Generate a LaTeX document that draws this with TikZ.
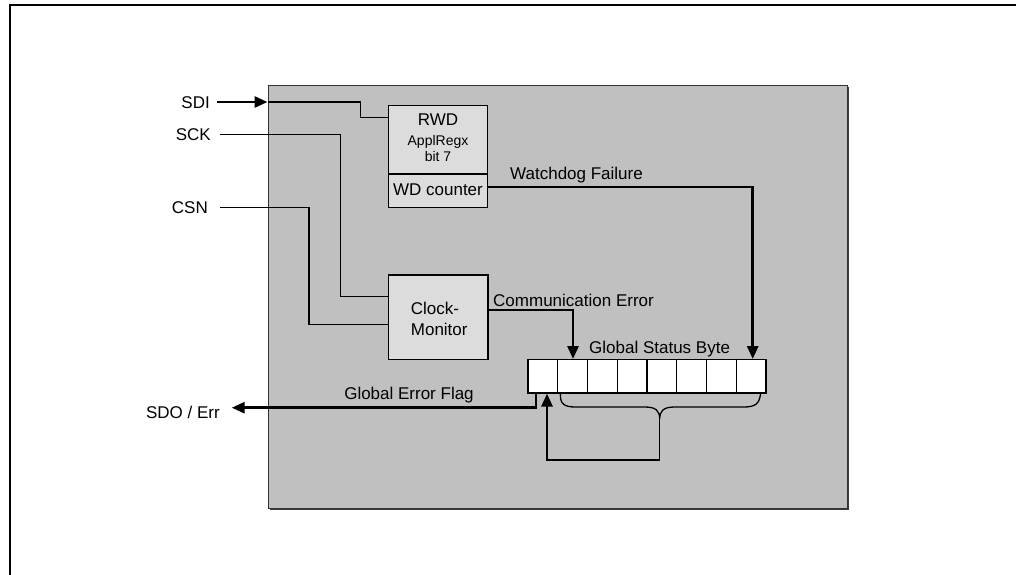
\documentclass[tikz,border=0pt]{standalone}
\usepackage{fontspec}
\setmainfont{Liberation Sans}
\usetikzlibrary{arrows.meta}
\definecolor{chipgray}{RGB}{192,192,192}
\definecolor{boxgray}{RGB}{220,220,220}
\definecolor{shadowgray}{RGB}{60,60,60}
\begin{document}
\begin{tikzpicture}[x=1pt,y=-1pt,
  lbl/.style={inner sep=0pt, font=\fontsize{17}{20}\selectfont, text height=12.2pt, text depth=0pt},
  sml/.style={inner sep=0pt, font=\fontsize{14}{17}\selectfont, text height=10pt, text depth=0pt},
  thinline/.style={line width=1.3pt, draw=black},
  thickline/.style={line width=2.8pt, draw=black},
  arr/.style={-{Triangle[length=13pt,width=11pt]}},
  blk/.style={draw=black, line width=1.3pt, fill=boxgray, inner sep=0pt, anchor=north west},
  cell/.style={draw=black, line width=1.3pt, fill=white, minimum width=29.75pt, minimum height=33.3pt, inner sep=0pt, anchor=north west}]
\useasboundingbox (0,0) rectangle (1016,574);
% outer frame
\draw[line width=2pt] (10,590) -- (10,5.2) -- (1030,5.2);
% chip body with shadow
\fill[shadowgray] (269.5,86.5) rectangle (848.5,509.5);
\node[draw=black!80, line width=1pt, fill=chipgray, anchor=north west, minimum width=579pt, minimum height=423pt, inner sep=0pt] (chip) at (267.5,84.5) {};
% blocks
\node[blk, minimum width=99pt, minimum height=68.3pt] (rwd) at (388,105) {};
\node[blk, minimum width=99pt, minimum height=33.4pt] (wdc) at (388,173.3) {};
\node[lbl] (rwdt) at (438,119.7) {RWD};
\node[sml] (appl) at (438,140) {ApplRegx};
\node[sml] (bit) at (438,156) {bit 7};
\node[lbl] (wdct) at (438,189.2) {WD counter};
\node[blk, minimum width=99.6pt, minimum height=84.7pt] (clk) at (387.7,274.3) {};
\node[lbl, anchor=west] (clk1) at (410.7,308.3) {Clock-};
\node[lbl, anchor=west] (clk2) at (410.7,329.7) {Monitor};
% status byte cells
\foreach \i in {0,...,7} \node[cell] (c\i) at ({527.3+29.75*\i},359) {};
% labels
\node[lbl, anchor=east] (sdi) at (210,102) {SDI};
\node[lbl, anchor=east] (sck) at (211,134.7) {SCK};
\node[lbl, anchor=east] (csn) at (208,207.3) {CSN};
\node[lbl, anchor=east] (sdo) at (220,412) {SDO / Err};
\node[lbl, anchor=east] (wdf) at (643,173.3) {Watchdog Failure};
\node[lbl, anchor=west] (com) at (493,300) {Communication Error};
\node[lbl, anchor=west] (gsb) at (589,347.8) {Global Status Byte};
\node[lbl] (gef) at (409,393.3) {Global Error Flag};
% SDI
\coordinate (sdiin) at (sdi.east -| chip.west);
\draw[thickline, arr] ([xshift=7pt]sdi.east) -- (sdiin);
\draw[thinline] (sdiin) -| (360.7,117.7) -- (rwd.west |- 0,117.7);
% SCK, CSN
\draw[thinline] ([xshift=9pt]sck.east) -| (340.7,296.7) -- (clk.west |- 0,296.7);
\draw[thinline] ([xshift=12pt]csn.east) -| (309,324.3) -- (clk.west |- 0,324.3);
% watchdog failure
\coordinate (wdcorner) at (752.7,187);
\draw[thinline] (wdc.east |- wdcorner) -- (wdcorner);
\draw[thickline, arr] ([yshift=0.6pt]wdcorner) -- (wdcorner |- c7.north);
% communication error
\coordinate (comcorner) at (573,310);
\draw[thinline] (clk.east |- comcorner) -- (comcorner);
\draw[thickline, arr] ([yshift=0.6pt]comcorner) -- (comcorner |- c1.north);
% global error flag
\coordinate (gefcorner) at (536,407.7);
\draw[thinline] ([xshift=8.7pt]c0.south west) -- ([yshift=-1.4pt]gefcorner);
\draw[thickline, arr] ([xshift=0.6pt]gefcorner) -- ([xshift=11.7pt]sdo.east |- gefcorner);
% brace and feedback loop
\coordinate (cusp) at (659.7,419);
\coordinate (loopR) at (659.7,460);
\coordinate (loopL) at (547,460);
\draw[thinline] ([xshift=3.3pt]c1.south west) .. controls (560,404) and (564,407) .. (576,407) -- (645,407) .. controls (656,407) and (659.7,411) .. (cusp) .. controls (659.7,411) and (663.4,407) .. (674.4,407) -- (743.3,407) .. controls (755.3,407) and (759.3,404) .. ([xshift=-6pt]c7.south east);
\draw[thinline] (cusp) -- (loopR) -- (loopL);
\draw[thickline, arr] ([yshift=-0.6pt]loopL) -- (loopL |- c0.south);
\end{tikzpicture}
\end{document}
